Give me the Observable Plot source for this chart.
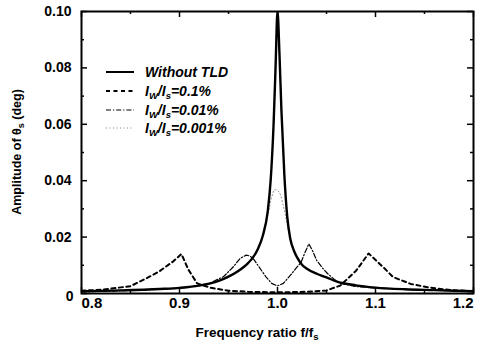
<!DOCTYPE html>
<html><head><meta charset="utf-8">
<script src="https://cdn.jsdelivr.net/npm/d3@7"></script>
<script src="https://cdn.jsdelivr.net/npm/@observablehq/plot@0.6"></script>
<style>body{margin:0;background:#fff} svg{display:block}</style>
</head><body><div id="chart"></div>
<script>
// ---- tick values & labels ----
const xTicks = [0.8, 0.9, 1.0, 1.1, 1.2];
const xTickLabels = ["0.8", "0.9", "1.0", "1.1", "1.2"];
const xMinor = [0.85, 0.95, 1.05, 1.15];
const yTicks = [0, 0.02, 0.04, 0.06, 0.08, 0.10];
const yTickLabels = ["0", "0.02", "0.04", "0.06", "0.08", "0.10"];
const yMinor = [0.01, 0.03, 0.05, 0.07, 0.09];

// ---- series (frequency ratio, amplitude) ----
const noTldF = [0.80,0.84,0.88,0.90,0.92,0.94,0.95,0.96,0.97,0.975,0.98,0.985,0.99,0.993,0.996,0.998,1.000,1.002,1.004,1.007,1.010,1.013,1.017,1.020,1.025,1.030,1.040,1.050,1.060,1.080,1.100,1.130,1.160,1.200];
const noTldA = [0.0008,0.0011,0.0016,0.0020,0.0028,0.0045,0.0060,0.0080,0.0108,0.0128,0.0158,0.0205,0.0290,0.0400,0.0600,0.0800,0.1000,0.0850,0.0650,0.0420,0.0270,0.0195,0.0150,0.0128,0.0102,0.0088,0.0070,0.0057,0.0043,0.0029,0.0021,0.0015,0.0012,0.0008];

const r01F = [0.80,0.82,0.85,0.867,0.88,0.894,0.902,0.909,0.918,0.932,0.95,0.97,1.00,1.03,1.05,1.064,1.08,1.093,1.108,1.118,1.136,1.153,1.177,1.20];
const r01A = [0.0010,0.0013,0.0026,0.0055,0.0080,0.0115,0.0140,0.0085,0.0036,0.0020,0.0010,0.0006,0.0004,0.0006,0.0011,0.0028,0.0080,0.0142,0.0093,0.0058,0.0034,0.0022,0.0012,0.0008];

const r001F = [0.80,0.85,0.90,0.93,0.945,0.955,0.962,0.968,0.972,0.976,0.982,0.988,0.994,1.000,1.006,1.013,1.019,1.024,1.028,1.032,1.036,1.040,1.046,1.051,1.058,1.064,1.080,1.100,1.150,1.200];
const r001A = [0.0006,0.0010,0.0018,0.0035,0.0060,0.0095,0.0125,0.0136,0.0133,0.0120,0.0090,0.0060,0.0036,0.0027,0.0036,0.0064,0.0090,0.0110,0.0145,0.0176,0.0150,0.0117,0.0090,0.0071,0.0050,0.0036,0.0025,0.0019,0.0012,0.0008];

const r0001F = [0.80,0.84,0.88,0.90,0.92,0.94,0.95,0.96,0.97,0.975,0.98,0.985,0.99,0.994,0.997,1.000,1.003,1.006,1.010,1.013,1.017,1.020,1.025,1.030,1.040,1.050,1.060,1.080,1.100,1.130,1.160,1.200];
const r0001A = [0.0008,0.0011,0.0016,0.0020,0.0028,0.0045,0.0060,0.0080,0.0108,0.0128,0.0158,0.0205,0.0275,0.0340,0.0368,0.0365,0.0350,0.0310,0.0245,0.0195,0.0150,0.0128,0.0102,0.0088,0.0070,0.0057,0.0043,0.0029,0.0021,0.0015,0.0012,0.0008];

const seriesNames = ["Without TLD", "0.1%", "0.01%", "0.001%"];

const toRows = (F, A) => F.map((f, i) => ({f, a: A[i]}));

// ---- layout ----
const W = 491, H = 344, mL = 81, mR = 18, mT = 11, mB = 51;
const innerW = W - mL - mR, innerH = H - mT - mB;
const font = "'Liberation Sans', Arial, Helvetica, sans-serif";

const styles = [
  {stroke: "#000", strokeWidth: 2.4},
  {stroke: "#000", strokeWidth: 2, strokeDasharray: "4,3.5"},
  {stroke: "#000", strokeWidth: 1.2, strokeDasharray: "5,2,1.2,2"},
  {stroke: "#666", strokeWidth: 0.8, strokeDasharray: "1,2.5"}
];

const xLabelMark = (idx, anchor) => Plot.text(idx.map(i => xTicks[i]), {
  x: d => d, text: d => xTickLabels[xTicks.indexOf(d)], frameAnchor: "bottom", dy: 14,
  textAnchor: anchor, fontSize: 15, fontWeight: "bold", fill: "#000"
});

const chart = Plot.plot({
  width: W, height: H,
  marginLeft: mL, marginRight: mR, marginTop: mT, marginBottom: mB,
  style: {fontFamily: font, background: "#fff"},
  x: {domain: [0.8, 1.2], axis: null},
  y: {domain: [0, 0.1], axis: null},
  marks: [
    Plot.line(toRows(r0001F, r0001A), {x: "f", y: "a", curve: "monotone-x", clip: true, ...styles[3]}),
    Plot.line(toRows(r001F, r001A), {x: "f", y: "a", curve: "linear", clip: true, ...styles[2]}),
    Plot.line(toRows(r01F, r01A), {x: "f", y: "a", curve: "linear", clip: true, ...styles[1]}),
    Plot.line(toRows(noTldF, noTldA), {x: "f", y: "a", curve: "monotone-x", clip: true, ...styles[0]}),
    // inward ticks
    Plot.tickX(xTicks, {x: d => d, insetTop: innerH - 6, strokeWidth: 1.5}),
    Plot.tickX(xTicks, {x: d => d, insetBottom: innerH - 6, strokeWidth: 1.5}),
    Plot.tickX(xMinor, {x: d => d, insetTop: innerH - 3, strokeWidth: 1.5}),
    Plot.tickX(xMinor, {x: d => d, insetBottom: innerH - 3, strokeWidth: 1.5}),
    Plot.tickY(yTicks, {y: d => d, insetRight: innerW - 6, strokeWidth: 1.5}),
    Plot.tickY(yTicks, {y: d => d, insetLeft: innerW - 6, strokeWidth: 1.5}),
    Plot.tickY(yMinor, {y: d => d, insetRight: innerW - 3, strokeWidth: 1.5}),
    Plot.tickY(yMinor, {y: d => d, insetLeft: innerW - 3, strokeWidth: 1.5}),
    Plot.frame({stroke: "#000", strokeWidth: 2}),
    // tick labels
    xLabelMark([0], "start"),
    xLabelMark([1, 2, 3], "middle"),
    xLabelMark([4], "end"),
    Plot.text(yTicks.slice(1), {y: d => d, text: d => yTickLabels[yTicks.indexOf(d)], frameAnchor: "left", dx: -10,
      textAnchor: "end", fontSize: 14, fontWeight: "bold", fill: "#000"}),
    Plot.text(yTicks.slice(0, 1), {y: d => d, text: d => yTickLabels[yTicks.indexOf(d)], frameAnchor: "left", dx: -8, dy: 3,
      textAnchor: "end", fontSize: 14, fontWeight: "bold", fill: "#000"})
  ]
});

document.getElementById("chart").appendChild(chart);

// ---- titles & legend (real SVG text) ----
const svg = d3.select(chart);
const xt = svg.append("text").attr("x", 257).attr("y", 337).attr("text-anchor", "middle")
  .attr("font-family", font).attr("font-weight", "bold").attr("font-size", 13.5).attr("fill", "#000");
xt.append("tspan").text("Frequency ratio f/f");
xt.append("tspan").attr("font-size", 9.5).attr("dy", 3).text("s");

const yt = svg.append("text").attr("transform", `translate(21,${mT + innerH / 2}) rotate(-90)`).attr("text-anchor", "middle")
  .attr("font-family", font).attr("font-weight", "bold").attr("font-size", 12.5).attr("fill", "#000");
yt.append("tspan").text("Amplitude of \u03B8");
yt.append("tspan").attr("font-size", 9).attr("dy", 3).text("s");
yt.append("tspan").attr("dy", -3).text(" (deg)");

const legRows = [72, 91, 110, 128];
const lg = svg.append("g").attr("font-family", font).attr("font-weight", "bold").attr("font-style", "italic")
  .attr("font-size", 14).attr("text-anchor", "start");
seriesNames.forEach((name, i) => {
  const y = legRows[i];
  const s = styles[i];
  lg.append("line").attr("x1", 106).attr("x2", 134).attr("y1", y).attr("y2", y)
    .attr("stroke", s.stroke).attr("stroke-width", Math.min(s.strokeWidth, 2))
    .attr("stroke-dasharray", s.strokeDasharray || null);
  const t = lg.append("text").attr("x", 145).attr("y", y).attr("dy", "0.35em").attr("fill", "#000")
    .attr("text-anchor", "start");
  if (i === 0) {
    t.text(name);
  } else {
    t.append("tspan").text("I");
    t.append("tspan").attr("font-size", 9.5).attr("dy", 3).text("W");
    t.append("tspan").attr("dy", -3).text("/I");
    t.append("tspan").attr("font-size", 9.5).attr("dy", 3).text("s");
    t.append("tspan").attr("dy", -3).text("=" + name);
  }
});
</script>
</body></html>
